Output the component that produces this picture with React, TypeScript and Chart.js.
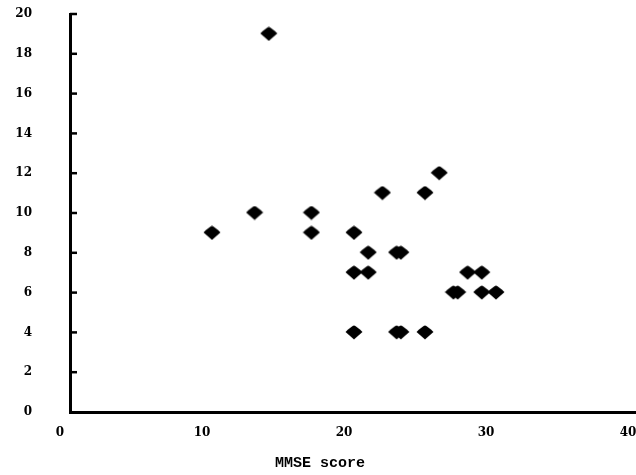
import React, { useEffect, useRef } from "react";
import { Chart, registerables } from "chart.js";

Chart.register(...registerables);

const mmseScores = [14, 10, 13, 17, 17, 20, 21, 20, 21, 22, 23, 23.3, 20, 23, 23.3, 25, 25, 26, 27, 27.3, 28, 29, 29, 30];
const yValues = [19, 9, 10, 10, 9, 9, 8, 7, 7, 11, 8, 8, 4, 4, 4, 4, 11, 12, 6, 6, 7, 7, 6, 6];
const xTicks = [0, 10, 20, 30, 40];
const yTicks = [0, 2, 4, 6, 8, 10, 12, 14, 16, 18, 20];
const xTitle = "MMSE score";

function makeDiamond(): HTMLCanvasElement {
  const c = document.createElement("canvas");
  c.width = 18;
  c.height = 15;
  const ctx = c.getContext("2d")!;
  ctx.fillStyle = "#000";
  ctx.beginPath();
  ctx.moveTo(9, 0.5);
  ctx.quadraticCurveTo(12, 1.5, 17.5, 7);
  ctx.lineTo(9, 14.5);
  ctx.lineTo(0.5, 7);
  ctx.quadraticCurveTo(6, 1.5, 9, 0.5);
  ctx.closePath();
  ctx.fill();
  return c;
}

export default function App() {
  const ref = useRef<HTMLCanvasElement>(null);
  useEffect(() => {
    if (!ref.current) return;
    const diamond = makeDiamond();
    const tickPlugin = {
      id: "innerTicks",
      afterDraw(chart: any) {
        const ctx = chart.ctx;
        const ys = chart.scales.y;
        const left = chart.chartArea.left;
        ctx.save();
        ctx.strokeStyle = "#000";
        ctx.lineWidth = 2.5;
        yTicks.forEach((v) => {
          if (v === 0) return;
          const py = ys.getPixelForValue(v);
          ctx.beginPath();
          ctx.moveTo(left, py);
          ctx.lineTo(left + 7, py);
          ctx.stroke();
        });
        ctx.fillStyle = "#000";
        ctx.font = "bold 15px 'Liberation Mono', monospace";
        ctx.textAlign = "center";
        ctx.textBaseline = "middle";
        ctx.fillText(xTitle, 320, 463);
        ctx.restore();
      },
    };
    const chart = new Chart(ref.current, {
      type: "scatter",
      data: {
        datasets: [
          {
            data: mmseScores.map((x, i) => ({ x, y: yValues[i] })),
            pointStyle: diamond as any,
            backgroundColor: "#000",
            borderColor: "#000",
          },
        ],
      },
      options: {
        animation: false,
        responsive: false,
        devicePixelRatio: 1,
        layout: { padding: { left: 0, right: 12, top: 14, bottom: 0 } },
        plugins: { legend: { display: false }, tooltip: { enabled: false } },
        scales: {
          x: {
            type: "linear",
            min: 0,
            max: 40,
            afterBuildTicks: (s: any) => {
              s.ticks = xTicks.map((v) => ({ value: v }));
            },
            afterFit: (s: any) => {
              s.height = 63;
              s.paddingLeft = 0;
              s.paddingRight = 0;
              s.paddingTop = 0;
              s.paddingBottom = 0;
            },
            grid: { display: true, drawOnChartArea: false, drawTicks: false },
            border: { display: true, color: "#000", width: 3 },
            ticks: {
              color: "#000",
              padding: 14,
              labelOffset: -10,
              maxRotation: 0,
              font: { family: "'DejaVu Serif', serif", size: 12, weight: "bold" },
            },
          },
          y: {
            type: "linear",
            min: 0,
            max: 20,
            afterBuildTicks: (s: any) => {
              s.ticks = yTicks.map((v) => ({ value: v }));
            },
            afterFit: (s: any) => {
              s.width = 70;
              s.paddingLeft = 0;
              s.paddingRight = 0;
              s.paddingTop = 0;
              s.paddingBottom = 0;
            },
            grid: { display: true, drawOnChartArea: false, drawTicks: false },
            border: { display: true, color: "#000", width: 3 },
            ticks: {
              color: "#000",
              padding: 38,
              font: { family: "'DejaVu Serif', serif", size: 12, weight: "bold" },
            },
          },
        },
      },
      plugins: [tickPlugin],
    });
    return () => chart.destroy();
  }, []);
  return (
    <div
      style={{
        position: "fixed",
        left: 0,
        top: 0,
        width: 636,
        height: 475,
        overflow: "hidden",
        background: "#fff",
      }}
    >
      <canvas ref={ref} width={650} height={475} style={{ display: "block", width: 650, height: 475 }} />
    </div>
  );
}
